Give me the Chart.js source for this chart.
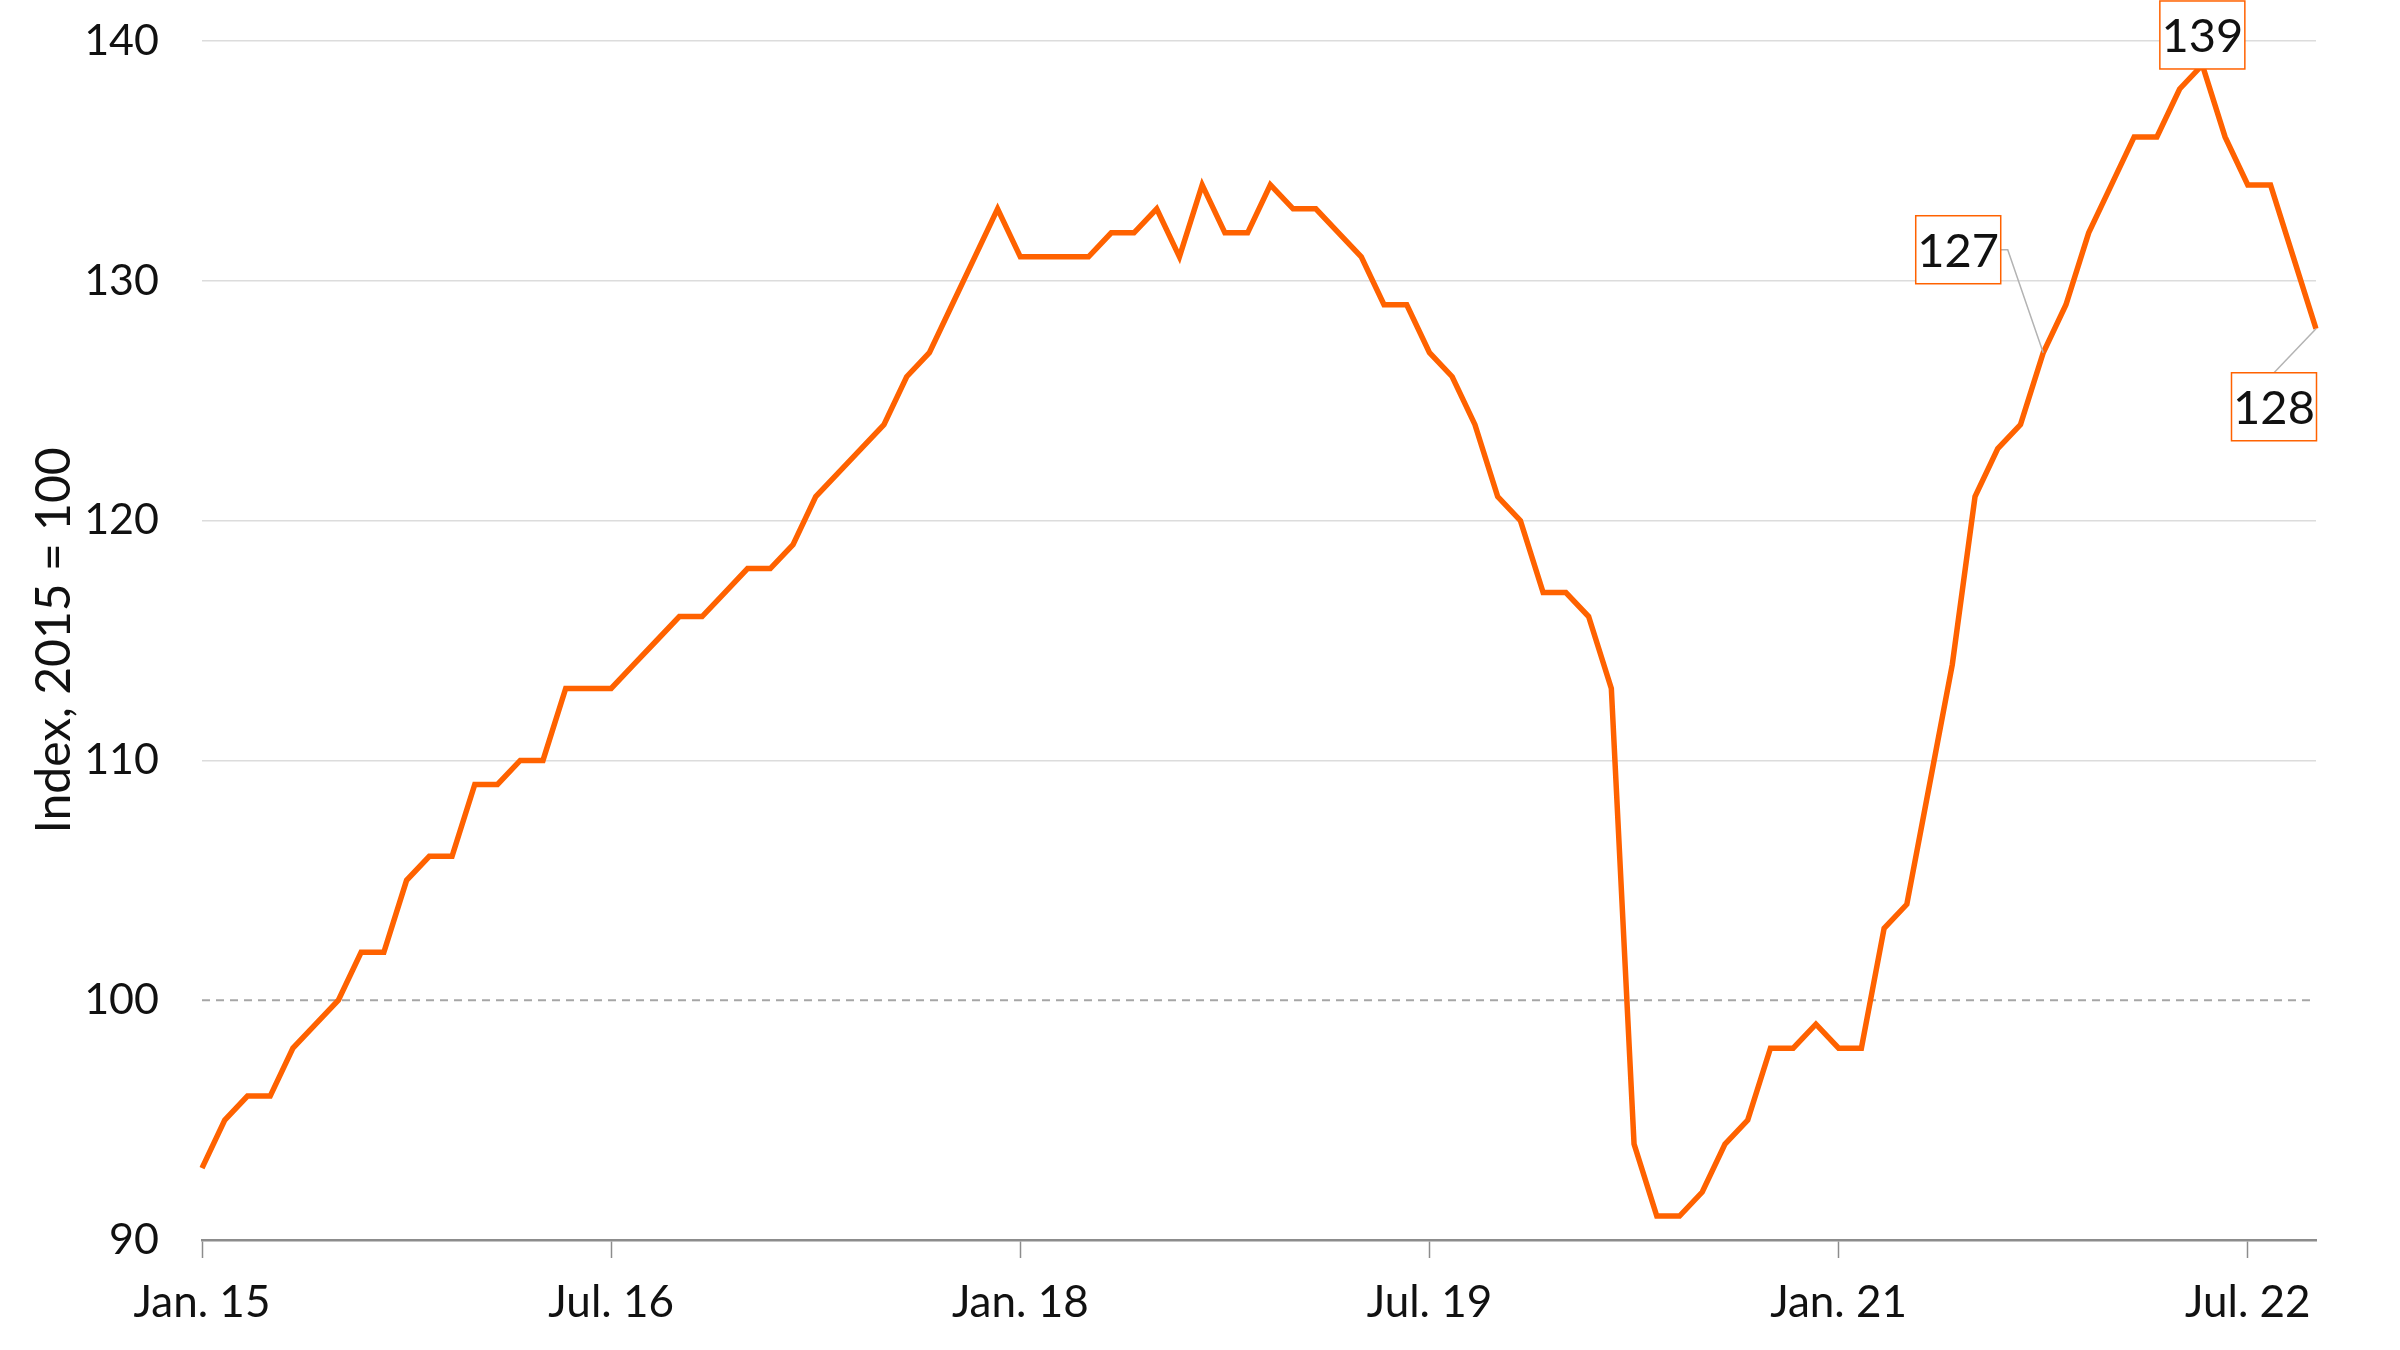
<!DOCTYPE html>
<html>
<head>
<meta charset="utf-8">
<script src="https://cdn.jsdelivr.net/npm/chart.js@4"></script>
<style>
  html, body { margin: 0; padding: 0; background: #fff; }
  #wrap { width: 2400px; height: 1350px; }
</style>
</head>
<body>
<div id="wrap"><canvas id="chart"></canvas></div>
<script>
// monthly index, Jan 2015 - Oct 2022
const monthNames = ['Jan.', 'Feb.', 'Mar.', 'Apr.', 'May', 'Jun.', 'Jul.', 'Aug.', 'Sep.', 'Oct.', 'Nov.', 'Dec.'];
const years = ['15', '16', '17', '18', '19', '20', '21', '22'];
const tickLabels = ['Jan. 15', 'Jul. 16', 'Jan. 18', 'Jul. 19', 'Jan. 21', 'Jul. 22'];
const yTicks = [90, 100, 110, 120, 130, 140];
const indexValues = [
  93, 95, 96, 96, 98, 99, 100, 102, 102, 105, 106, 106,
  109, 109, 110, 110, 113, 113, 113, 114, 115, 116, 116, 117,
  118, 118, 119, 121, 122, 123, 124, 126, 127, 129, 131, 133,
  131, 131, 131, 131, 132, 132, 133, 131, 134, 132, 132, 134,
  133, 133, 132, 131, 129, 129, 127, 126, 124, 121, 120, 117,
  117, 116, 113, 94, 91, 91, 92, 94, 95, 98, 98, 99,
  98, 98, 103, 104, 109, 114, 121, 123, 124, 127, 129, 132,
  134, 136, 136, 138, 139, 136, 134, 134, 131, 128
];
const refValue = 100;
const calloutPoints = [81, 88, 93];

const categories = [];
years.forEach(y => monthNames.forEach(m => categories.push(m + ' ' + y)));
categories.length = indexValues.length;

const ORANGE = '#FF6200';
const FONT = 'Lato, "Open Sans", sans-serif';

// box offsets from the point, and where the leader line leaves the box
const calloutStyle = {
  81: { dx: -85, dy: -103, leader: 'right' },
  88: { dx: 0, dy: -30, leader: null },
  93: { dx: -42, dy: 78, leader: 'top' }
};

const annotate = {
  id: 'annotate',
  beforeDatasetsDraw(chart) {
    const { ctx, chartArea, scales } = chart;
    const y = scales.y.getPixelForValue(refValue);
    ctx.save();
    ctx.strokeStyle = '#a6a6a6';
    ctx.lineWidth = 2;
    ctx.setLineDash([8, 6]);
    ctx.beginPath();
    ctx.moveTo(chartArea.left, y);
    ctx.lineTo(chartArea.right, y);
    ctx.stroke();
    ctx.restore();
  },
  afterDatasetsDraw(chart) {
    const { ctx, scales } = chart;
    const bw = 85, bh = 68;
    ctx.save();
    calloutPoints.forEach(i => {
      const st = calloutStyle[i];
      const px = scales.x.getPixelForValue(i);
      const py = scales.y.getPixelForValue(indexValues[i]);
      const cx = px + st.dx, cy = py + st.dy;
      ctx.strokeStyle = '#b3b3b3';
      ctx.lineWidth = 1.5;
      ctx.setLineDash([]);
      if (st.leader === 'right') {
        ctx.beginPath();
        ctx.moveTo(cx + bw / 2, cy);
        ctx.lineTo(cx + bw / 2 + 7, cy);
        ctx.lineTo(px, py);
        ctx.stroke();
      } else if (st.leader === 'top') {
        ctx.beginPath();
        ctx.moveTo(cx, cy - bh / 2);
        ctx.lineTo(px, py);
        ctx.stroke();
      }
      ctx.fillStyle = '#fff';
      ctx.fillRect(cx - bw / 2, cy - bh / 2, bw, bh);
      ctx.strokeStyle = ORANGE;
      ctx.lineWidth = 1.5;
      ctx.strokeRect(cx - bw / 2, cy - bh / 2, bw, bh);
      ctx.fillStyle = '#111';
      ctx.font = '47px ' + FONT;
      ctx.textAlign = 'center';
      ctx.textBaseline = 'middle';
      ctx.fillText(String(indexValues[i]), cx, cy + 2);
    });
    ctx.restore();
  }
};

new Chart(document.getElementById('chart'), {
  type: 'line',
  data: {
    labels: categories,
    datasets: [{
      data: indexValues,
      borderColor: ORANGE,
      borderWidth: 5.5,
      pointRadius: 0,
      tension: 0,
      fill: false
    }]
  },
  options: {
    responsive: true,
    maintainAspectRatio: false,
    animation: false,
    devicePixelRatio: 1,
    layout: { padding: { top: 41, right: 84, left: 0, bottom: 0 } },
    plugins: {
      legend: { display: false },
      tooltip: { enabled: false }
    },
    scales: {
      x: {
        type: 'category',
        offset: false,
        afterFit: s => { s.height = 110; },
        border: { display: true, color: '#8c8c8c', width: 2.5 },
        grid: {
          display: true,
          drawOnChartArea: false,
          drawTicks: true,
          tickLength: 18,
          tickColor: '#8c8c8c',
          tickWidth: 1.5
        },
        ticks: {
          autoSkip: false,
          maxRotation: 0,
          padding: 18,
          color: '#111',
          font: { family: FONT, size: 44 },
          callback(v, i) {
            const lbl = categories[i];
            return tickLabels.includes(lbl) ? lbl : null;
          }
        }
      },
      y: {
        min: yTicks[0],
        max: yTicks[yTicks.length - 1],
        afterFit: s => { s.width = 202; s.paddingTop = 0; s.paddingBottom = 0; },
        afterBuildTicks: s => { s.ticks = yTicks.map(v => ({ value: v })); },
        border: { display: false },
        grid: {
          drawTicks: false,
          lineWidth: 1.5,
          color: c => (c.tick && (c.tick.value === refValue || c.tick.value === yTicks[0])) ? 'rgba(0,0,0,0)' : '#dcdcdc'
        },
        ticks: {
          padding: 43,
          color: '#111',
          font: { family: FONT, size: 43 }
        },
        title: {
          display: true,
          text: 'Index, 2015 = 100',
          color: '#111',
          font: { family: FONT, size: 48 },
          padding: { top: 26, bottom: 0 }
        }
      }
    }
  },
  plugins: [annotate]
});
</script>
</body>
</html>
